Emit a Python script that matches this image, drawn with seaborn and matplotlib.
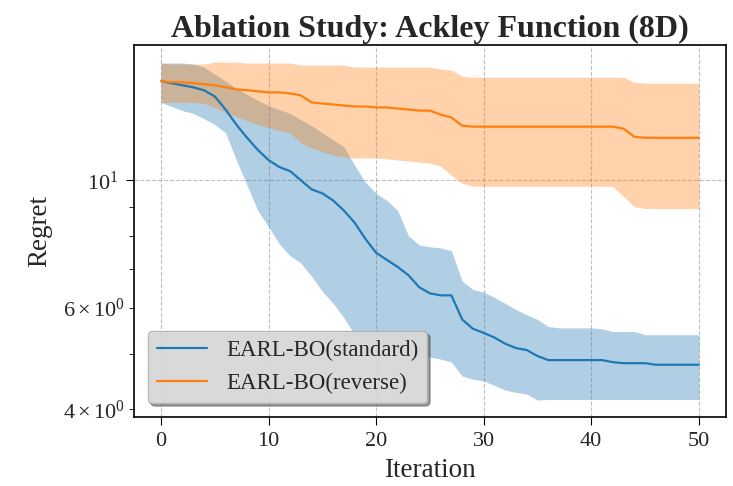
import matplotlib

matplotlib.use("Agg")
import matplotlib.pyplot as plt
import numpy as np
import pandas as pd
import seaborn as sns

iterations = np.arange(51)

standard_mean = [
    14.86, 14.74, 14.62, 14.50, 14.33, 13.98, 13.27, 12.49, 11.85, 11.29,
    10.84, 10.54, 10.37, 10.00, 9.64, 9.49, 9.22, 8.86, 8.44, 7.91,
    7.48, 7.27, 7.07, 6.84, 6.52, 6.36, 6.31, 6.31, 5.73, 5.52,
    5.43, 5.33, 5.20, 5.11, 5.07, 4.95, 4.87, 4.87, 4.87, 4.87,
    4.87, 4.87, 4.83, 4.81, 4.81, 4.81, 4.78, 4.78, 4.78, 4.78, 4.78,
]
standard_upper = [
    15.98, 15.98, 15.98, 15.91, 15.72, 15.28, 14.86, 14.44, 14.10, 13.76,
    13.48, 13.27, 13.06, 12.74, 12.44, 12.09, 11.75, 11.43, 10.62, 9.92,
    9.49, 9.22, 8.86, 8.01, 7.72, 7.66, 7.63, 7.54, 6.68, 6.46,
    6.39, 6.26, 6.11, 5.96, 5.84, 5.73, 5.57, 5.54, 5.54, 5.54,
    5.54, 5.52, 5.46, 5.46, 5.46, 5.39, 5.39, 5.39, 5.39, 5.39, 5.39,
]
standard_lower = [
    13.65, 13.43, 13.21, 13.06, 12.79, 12.49, 12.09, 10.84, 9.80, 8.86,
    8.30, 7.75, 7.39, 7.18, 6.81, 6.41, 6.11, 5.77, 5.39, 5.28,
    5.20, 5.11, 5.03, 4.99, 4.95, 4.93, 4.89, 4.83, 4.57, 4.51,
    4.48, 4.40, 4.32, 4.28, 4.25, 4.15, 4.16, 4.16, 4.16, 4.16,
    4.16, 4.16, 4.16, 4.16, 4.16, 4.16, 4.16, 4.16, 4.16, 4.16, 4.16,
]

reverse_mean = [
    14.86, 14.80, 14.80, 14.74, 14.68, 14.62, 14.50, 14.38, 14.33, 14.27,
    14.21, 14.21, 14.15, 14.04, 13.65, 13.59, 13.54, 13.48, 13.43, 13.43,
    13.38, 13.38, 13.32, 13.27, 13.21, 13.21, 13.00, 12.85, 12.44, 12.39,
    12.39, 12.39, 12.39, 12.39, 12.39, 12.39, 12.39, 12.39, 12.39, 12.39,
    12.39, 12.39, 12.39, 12.29, 11.90, 11.85, 11.85, 11.85, 11.85, 11.85, 11.85,
]
reverse_upper = [
    15.98, 15.91, 15.91, 15.91, 15.91, 16.04, 16.04, 16.04, 15.98, 15.98,
    15.98, 15.98, 15.98, 15.85, 15.85, 15.85, 15.85, 15.85, 15.72, 15.72,
    15.72, 15.72, 15.72, 15.72, 15.72, 15.72, 15.60, 15.53, 15.16, 15.10,
    15.10, 15.10, 15.10, 15.10, 15.10, 15.10, 15.10, 15.10, 15.10, 15.10,
    15.10, 15.10, 15.10, 15.10, 14.80, 14.74, 14.74, 14.74, 14.74, 14.74, 14.74,
]
reverse_lower = [
    13.65, 13.65, 13.65, 13.65, 13.59, 13.38, 13.11, 12.90, 12.69, 12.49,
    12.34, 12.19, 12.09, 11.61, 11.38, 11.20, 11.06, 10.97, 10.93, 10.93,
    10.93, 10.89, 10.84, 10.80, 10.75, 10.71, 10.58, 10.20, 9.88, 9.76,
    9.76, 9.76, 9.76, 9.76, 9.76, 9.76, 9.76, 9.76, 9.76, 9.76,
    9.76, 9.76, 9.76, 9.37, 9.00, 8.93, 8.93, 8.93, 8.93, 8.93, 8.93,
]

methods = ["EARL-BO(standard)", "EARL-BO(reverse)"]
colors = ["#1f77b4", "#ff7f0e"]

df = pd.concat(
    [
        pd.DataFrame({"Iteration": iterations, "Regret": standard_mean, "Method": methods[0]}),
        pd.DataFrame({"Iteration": iterations, "Regret": reverse_mean, "Method": methods[1]}),
    ]
)

sns.set_style("ticks")
plt.rcParams["font.family"] = ["Liberation Serif", "DejaVu Serif"]
plt.rcParams["mathtext.fontset"] = "stix"

fig, ax = plt.subplots(figsize=(7.33, 4.86), dpi=100)
fig.subplots_adjust(left=0.183, right=0.990, top=0.907, bottom=0.142)

sns.lineplot(
    data=df, x="Iteration", y="Regret", hue="Method", hue_order=methods,
    palette=colors, linewidth=1.6, ax=ax,
)
ax.fill_between(iterations, standard_lower, standard_upper, color=colors[0], alpha=0.35, linewidth=0)
ax.fill_between(iterations, reverse_lower, reverse_upper, color=colors[1], alpha=0.35, linewidth=0)

ax.set_yscale("log")
ax.set_xticks([0, 10, 20, 30, 40, 50])
ax.grid(True, which="major", linestyle="--", color="gray", alpha=0.5, linewidth=0.8)
for s in ax.spines.values():
    s.set_color("black")
    s.set_linewidth(1.2)
ax.tick_params(axis="both", which="major", labelsize=16, color="black", length=6, pad=5)
ax.tick_params(axis="y", which="minor", labelsize=16, color="black", length=3.5)

ax.set_title("Ablation Study: Ackley Function (8D)", fontsize=23, fontweight="bold", pad=6)
ax.set_xlabel("Iteration", fontsize=19.5, labelpad=5)
ax.set_ylabel("Regret", fontsize=19.5, labelpad=8)
leg = ax.legend(loc="lower left", fontsize=16.5, shadow=True, frameon=True,
                facecolor="#e0e0e0", edgecolor="#b0b0b0", framealpha=0.9,
                borderaxespad=0.6, handlelength=2.2)

fig.savefig("out.png", dpi=100)
